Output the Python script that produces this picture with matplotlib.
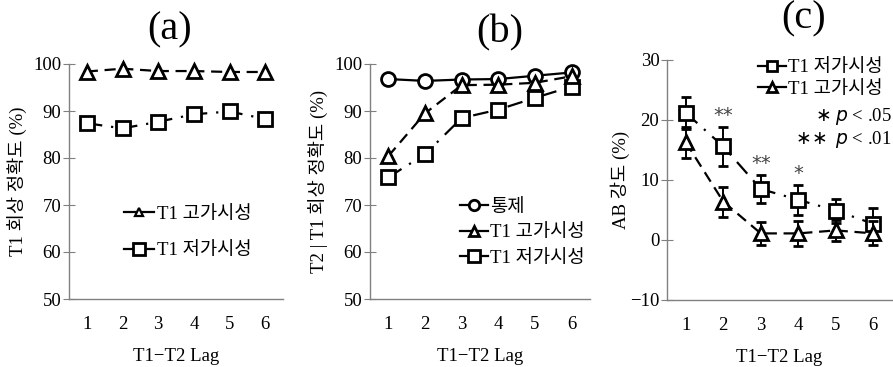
import matplotlib
matplotlib.use("Agg")
import matplotlib.pyplot as plt
from matplotlib.lines import Line2D

plt.rcParams['font.family'] = ['Liberation Serif', 'Noto Sans CJK KR', 'DejaVu Sans']
plt.rcParams['axes.unicode_minus'] = True

lags = [1, 2, 3, 4, 5, 6]

# (a) T1 recall accuracy
a_high = [98.4, 99.0, 98.5, 98.5, 98.3, 98.3]
a_low = [87.4, 86.3, 87.7, 89.3, 89.9, 88.3]

# (b) T2|T1 recall accuracy
b_ctrl = [96.8, 96.4, 96.7, 96.8, 97.5, 98.2]
b_high = [80.4, 89.5, 95.5, 95.6, 96.0, 97.4]
b_low = [75.9, 80.8, 88.5, 90.3, 92.8, 95.2]

# (c) AB magnitude
c_low = [21.2, 15.6, 8.5, 6.7, 4.9, 2.7]
c_low_err = [2.7, 3.2, 2.4, 2.5, 2.0, 2.7]
c_high = [16.3, 6.4, 1.1, 1.1, 1.6, 1.1]
c_high_err = [2.6, 2.5, 1.9, 2.1, 1.8, 2.0]
stars = ['', '**', '**', '*', '', '']

lab_high = 'T1 고가시성'
lab_low = 'T1 저가시성'
lab_ctrl = '통제'

W, H = 893, 367
fig = plt.figure(figsize=(W / 100, H / 100), dpi=100)

def px_axes(l, r, t, b):
    return fig.add_axes([l / W, 1 - b / H, (r - l) / W, (b - t) / H])

axA = px_axes(69, 283, 64, 299)
axB = px_axes(370, 590, 64, 299)
axC = px_axes(667, 892, 60, 300)

DASH = (0, (5, 3))
DASHDOT = (0, (7, 4, 1, 4))
lw = 1.6
mew = 2.0
TICK_FS = 13.5
LAB_FS = 13.5
LEG_FS = 13.5

def style(ax, ylim, yticks):
    ax.set_xlim(0.5, 6.5)
    ax.set_ylim(*ylim)
    ax.set_yticks(yticks)
    ax.set_xticks(lags)
    for s in ['top', 'right']:
        ax.spines[s].set_visible(False)
    for s in ['left', 'bottom']:
        ax.spines[s].set_color('#808080')
        ax.spines[s].set_linewidth(1.0)
    ax.tick_params(axis='y', direction='inout', length=9, color='#808080', labelsize=TICK_FS, pad=1)
    ax.tick_params(axis='x', length=0, labelsize=TICK_FS, pad=12)
    ax.set_xlabel('T1\u2212T2 Lag', fontsize=LAB_FS, labelpad=11)
    ax.patch.set_alpha(0)

tri = dict(marker='^', markersize=9.5, markerfacecolor='white', markeredgecolor='black', markeredgewidth=mew, color='black', linewidth=lw)
sq = dict(marker='s', markersize=10.5, markerfacecolor='white', markeredgecolor='black', markeredgewidth=mew, color='black', linewidth=lw)
circ = dict(marker='o', markersize=10, markerfacecolor='white', markeredgecolor='black', markeredgewidth=mew, color='black', linewidth=lw)

# ---- (a)
axA.plot(lags, a_high, linestyle=DASH, clip_on=False, **tri)
axA.plot(lags, a_low, linestyle=DASHDOT, clip_on=False, **sq)
style(axA, (50, 100), [50, 60, 70, 80, 90, 100])
axA.set_ylabel('T1 회상 정확도 (%)', fontsize=LAB_FS, labelpad=4)
hA = [Line2D([], [], linestyle='-', **{**tri, 'markersize': 6, 'markeredgewidth': 1.6}),
      Line2D([], [], linestyle='-', **{**sq, 'markersize': 9})]
axA.legend(hA, [lab_high, lab_low], loc='upper left', bbox_to_anchor=(0.22, 0.43), frameon=False,
           fontsize=LEG_FS, handlelength=1.6, handletextpad=0.2, labelspacing=1.05, borderaxespad=0)

# ---- (b)
axB.plot(lags, b_ctrl, linestyle='-', clip_on=False, zorder=3, **circ)
axB.plot(lags, b_high, linestyle=DASH, clip_on=False, zorder=4, **tri)
axB.plot(lags, b_low, linestyle=DASHDOT, clip_on=False, zorder=2, **sq)
style(axB, (50, 100), [50, 60, 70, 80, 90, 100])
axB.set_ylabel('T2 | T1 회상 정확도 (%)', fontsize=LAB_FS, labelpad=4)
hB = [Line2D([], [], linestyle='-', **{**circ, 'markersize': 7.5}),
      Line2D([], [], linestyle='-', **{**tri, 'markersize': 7.5}),
      Line2D([], [], linestyle='-', **{**sq, 'markersize': 8})]
axB.legend(hB, [lab_ctrl, lab_high, lab_low], loc='upper left', bbox_to_anchor=(0.375, 0.46), frameon=False,
           fontsize=LEG_FS, handlelength=1.5, handletextpad=0.1, labelspacing=0.45, borderaxespad=0)

# ---- (c)
axC.errorbar(lags, c_low, yerr=c_low_err, linestyle=DASHDOT, capsize=3.5, elinewidth=1.4, capthick=1.4,
             clip_on=False, zorder=3, **sq)
axC.errorbar(lags, c_high, yerr=c_high_err, linestyle=DASH, capsize=3.5, elinewidth=1.4, capthick=1.4,
             clip_on=False, zorder=4, **tri)
style(axC, (-10, 30), [-10, 0, 10, 20, 30])
axC.set_ylabel('AB 강도 (%)', fontsize=LAB_FS, labelpad=0)
for x, y, e, s in zip(lags, c_low, c_low_err, stars):
    if s:
        axC.text(x, y + e + 0.3, s, ha='center', va='bottom', fontsize=14, color='#444444',
                 family=['DejaVu Sans'])
hC = [Line2D([], [], linestyle='-', **{**sq, 'markersize': 7.5}),
      Line2D([], [], linestyle='-', **{**tri, 'markersize': 7.5})]
axC.legend(hC, [lab_low, lab_high], loc='upper left', bbox_to_anchor=(0.37, 1.035), frameon=False,
           fontsize=LEG_FS, handlelength=1.5, handletextpad=0.1, labelspacing=0.25, borderaxespad=0)
axC.text(1.0, 0.765, r'$\ast$ $p$ < .05', transform=axC.transAxes, ha='right', va='center', fontsize=13.5)
axC.text(1.0, 0.67, r'$\ast\!\ast$ $p$ < .01', transform=axC.transAxes, ha='right', va='center', fontsize=13.5)

# titles
fig.text(170 / W, 1 - 30 / H, '(a)', ha='center', va='center', fontsize=29)
fig.text(500 / W, 1 - 33 / H, '(b)', ha='center', va='center', fontsize=29)
fig.text(804 / W, 1 - 19 / H, '(c)', ha='center', va='center', fontsize=29)

fig.savefig('out.png', dpi=100)
